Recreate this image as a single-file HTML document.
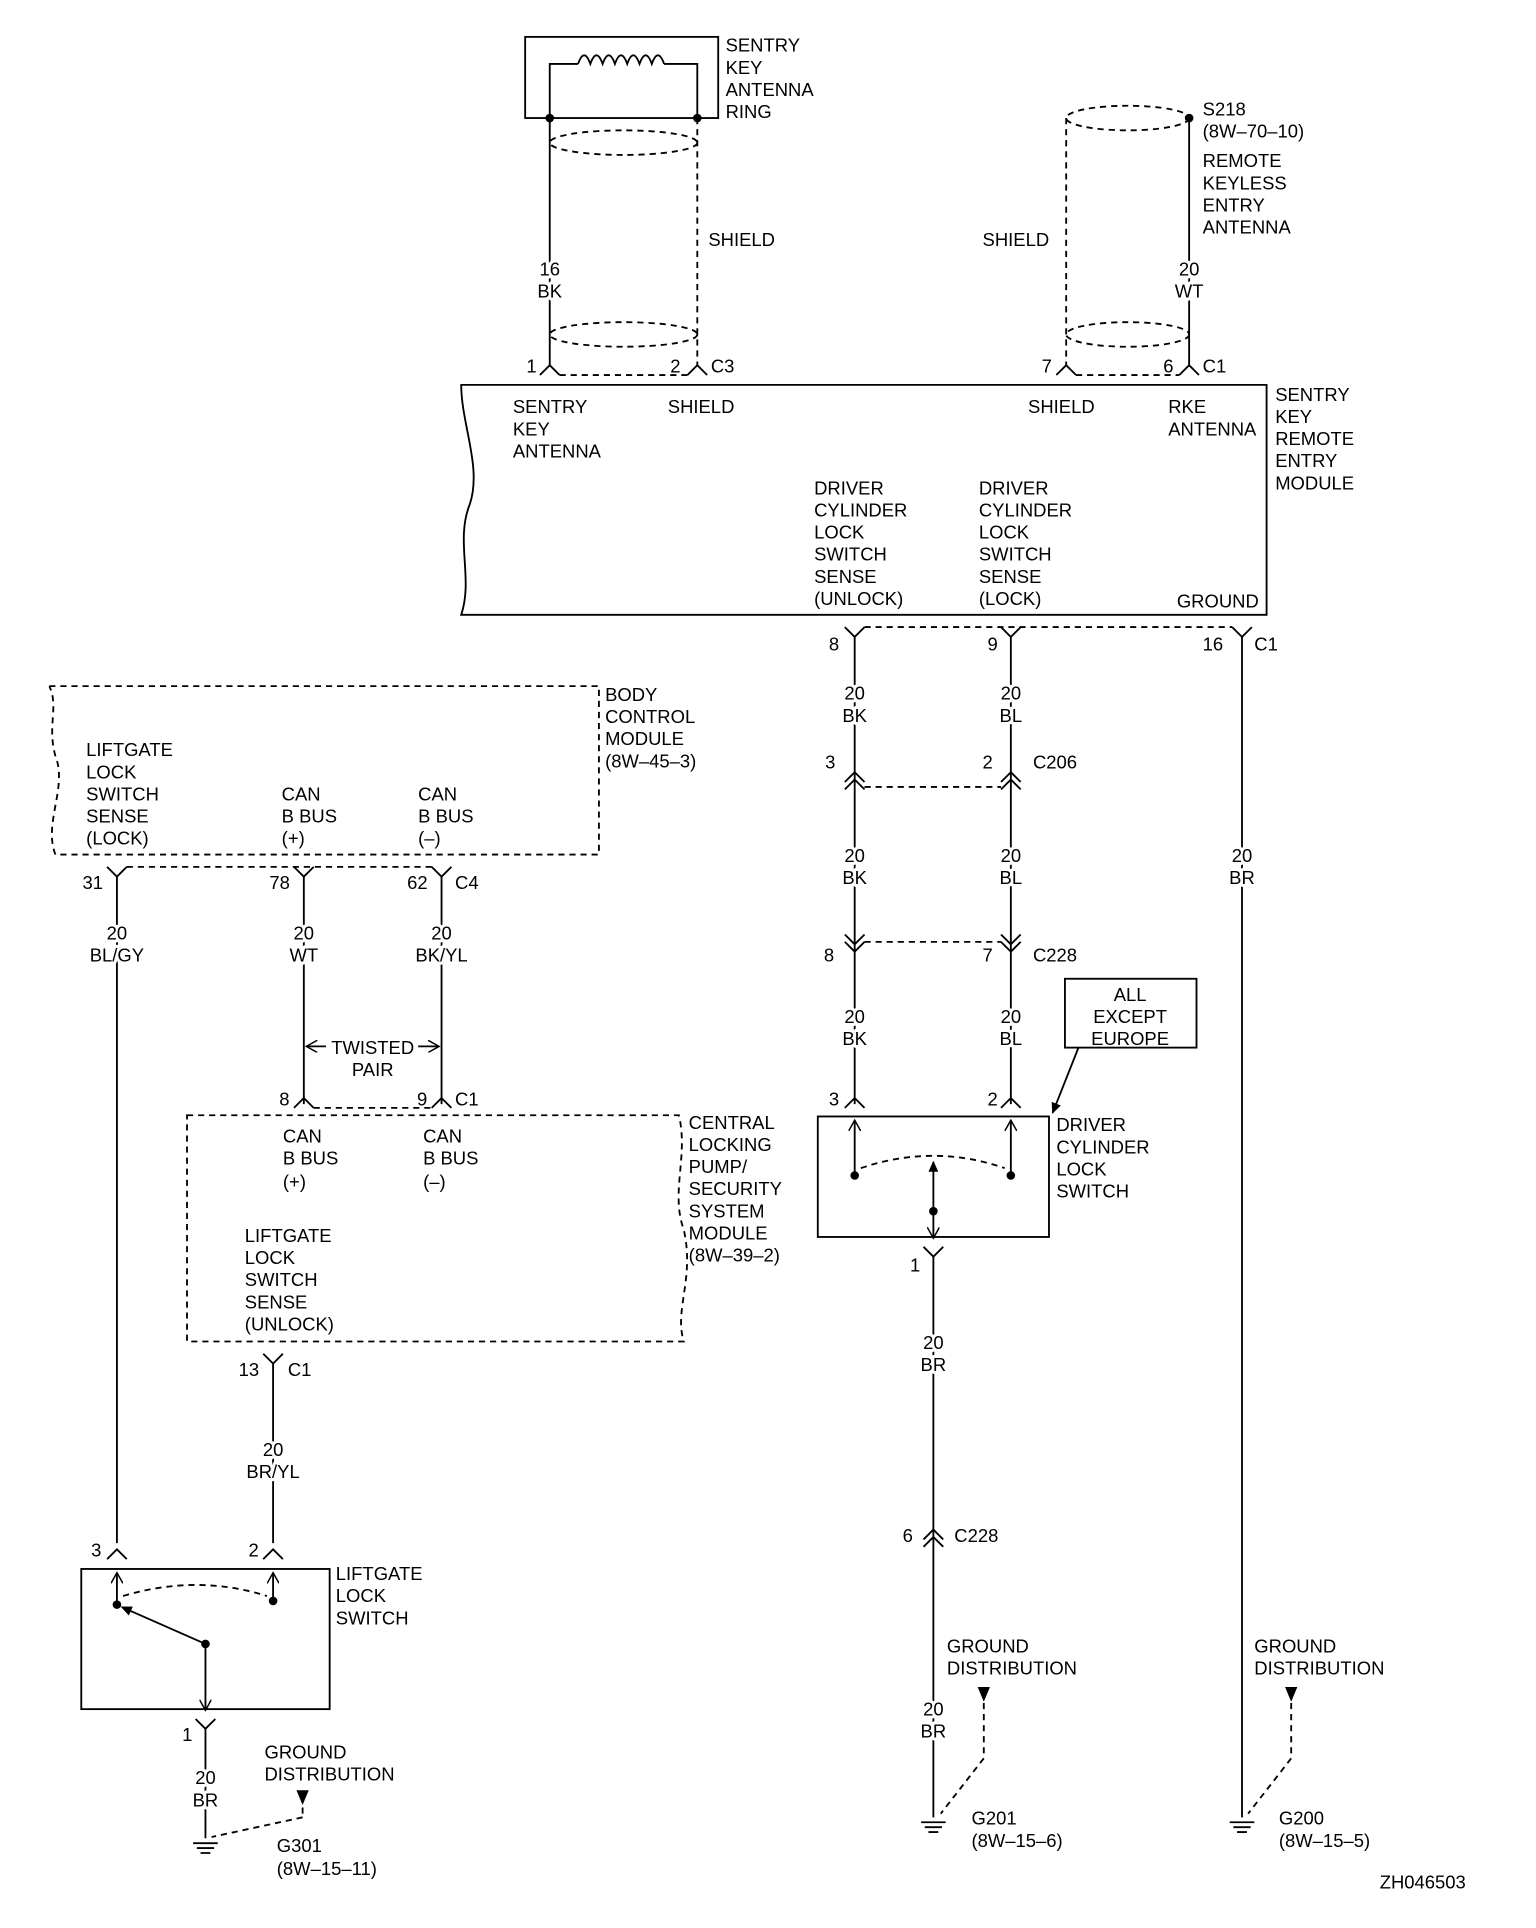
<!DOCTYPE html>
<html><head><meta charset="utf-8"><style>
html,body{margin:0;padding:0;background:#fff}
svg{display:block}
text{font-family:"Liberation Sans",sans-serif;font-size:15px;fill:#000}
.c{text-anchor:middle}
.w{stroke:#fff;stroke-width:5px;paint-order:stroke;stroke-linejoin:round}
</style></head><body>
<svg width="1536" height="1928" viewBox="0 0 1249 1568" xmlns="http://www.w3.org/2000/svg">
<defs>
<marker id="ah" markerWidth="10" markerHeight="10" refX="8" refY="5" orient="auto" markerUnits="userSpaceOnUse"><path d="M0,0 L9,5 L0,10" fill="none" stroke="#000" stroke-width="1.2"/></marker>
<marker id="at" markerWidth="10" markerHeight="10" refX="8" refY="5" orient="auto" markerUnits="userSpaceOnUse"><path d="M0,1 L9,5 L0,9 Z" fill="#000"/></marker>
</defs>
<g stroke="#000" stroke-width="1.5" fill="none">
<rect x="427" y="30" width="157" height="66"/>
<path d="M447,96 V52 H470 M540,52 H567 V96"/>
<path d="M470,52 q5,-14 10,0 q5,-14 10,0 q5,-14 10,0 q5,-14 10,0 q5,-14 10,0 q5,-14 10,0 q5,-14 10,0"/>
<line x1="447" y1="96" x2="447" y2="297"/>
<line x1="567" y1="96" x2="567" y2="297" stroke-dasharray="5,4"/>
<ellipse cx="507" cy="116" rx="60" ry="10" stroke-dasharray="5,4"/>
<ellipse cx="507" cy="272" rx="60" ry="10" stroke-dasharray="5,4"/>
<path d="M439,305 L447,297 L455,305 M559,305 L567,297 L575,305"/>
<line x1="455" y1="305" x2="559" y2="305" stroke-dasharray="5,4"/>
<line x1="967" y1="96" x2="967" y2="297"/>
<line x1="867" y1="96" x2="867" y2="297" stroke-dasharray="5,4"/>
<ellipse cx="917" cy="96" rx="50" ry="10" stroke-dasharray="5,4"/>
<ellipse cx="917" cy="272" rx="50" ry="10" stroke-dasharray="5,4"/>
<path d="M859,305 L867,297 L875,305 M959,305 L967,297 L975,305"/>
<line x1="875" y1="305" x2="959" y2="305" stroke-dasharray="5,4"/>
<path d="M375,313 H1030 V500 H375 C385,470 370,440 382,410 C392,380 375,345 375,313 Z"/>
<path d="M687,510 L695,518 L703,510 M814,510 L822,518 L830,510 M1002,510 L1010,518 L1018,510"/>
<line x1="703" y1="510" x2="1002" y2="510" stroke-dasharray="5,4"/>
<line x1="695" y1="518" x2="695" y2="898"/>
<line x1="822" y1="518" x2="822" y2="898"/>
<line x1="1010" y1="518" x2="1010" y2="1478"/>
<path d="M687,636 L695,628 L703,636 M687,642 L695,634 L703,642 M814,636 L822,628 L830,636 M814,642 L822,634 L830,642"/>
<line x1="703" y1="640" x2="814" y2="640" stroke-dasharray="5,4"/>
<path d="M687,760 L695,768 L703,760 M687,766 L695,774 L703,766 M814,760 L822,768 L830,760 M814,766 L822,774 L830,766"/>
<line x1="703" y1="766" x2="814" y2="766" stroke-dasharray="5,4"/>
<path d="M687,901 L695,893 L703,901 M814,901 L822,893 L830,901"/>
<rect x="866" y="796" width="107" height="56"/>
<line x1="877" y1="852" x2="856" y2="905" marker-end="url(#at)"/>
<rect x="665" y="908" width="188" height="98"/>
<line x1="695" y1="956" x2="695" y2="912" marker-end="url(#ah)"/>
<line x1="822" y1="956" x2="822" y2="912" marker-end="url(#ah)"/>
<path d="M700,950 Q759,930 817,950" stroke-dasharray="5,4"/>
<line x1="759" y1="985" x2="759" y2="945" marker-end="url(#at)"/>
<line x1="759" y1="985" x2="759" y2="1006" marker-end="url(#ah)"/>
<path d="M751,1014 L759,1022 L767,1014"/>
<line x1="759" y1="1022" x2="759" y2="1478"/>
<path d="M751,1252 L759,1244 L767,1252 M751,1258 L759,1250 L767,1258"/>
<line x1="800" y1="1385" x2="800" y2="1430" stroke-dasharray="5,4"/>
<line x1="800" y1="1430" x2="765" y2="1475" stroke-dasharray="5,4"/>
<line x1="1050" y1="1385" x2="1050" y2="1430" stroke-dasharray="5,4"/>
<line x1="1050" y1="1430" x2="1015" y2="1475" stroke-dasharray="5,4"/>
<path d="M749,1482 H769 M752,1486 H766 M755,1490 H763"/>
<path d="M1000,1482 H1020 M1003,1486 H1017 M1006,1490 H1014"/>
<path d="M157,1499 H177 M160,1503 H174 M163,1507 H171"/>
<path d="M40,558 H487 V695 H45 C35,670 55,640 45,615 C38,590 48,575 40,558" stroke-dasharray="5,4"/>
<path d="M87,705 L95,713 L103,705 M239,705 L247,713 L255,705 M351,705 L359,713 L367,705"/>
<line x1="103" y1="705" x2="351" y2="705" stroke-dasharray="5,4"/>
<line x1="95" y1="713" x2="95" y2="1255"/>
<line x1="247" y1="713" x2="247" y2="898"/>
<line x1="359" y1="713" x2="359" y2="898"/>
<line x1="265" y1="851" x2="250" y2="851" marker-end="url(#ah)"/>
<line x1="340" y1="851" x2="356" y2="851" marker-end="url(#ah)"/>
<path d="M239,901 L247,893 L255,901 M351,901 L359,893 L367,901"/>
<line x1="255" y1="901" x2="351" y2="901" stroke-dasharray="5,4"/>
<path d="M152,907 H552 C560,940 545,970 556,1000 C565,1040 548,1065 556,1091 H152 Z" stroke-dasharray="5,4"/>
<path d="M214,1101 L222,1109 L230,1101"/>
<line x1="222" y1="1109" x2="222" y2="1255"/>
<path d="M87,1268 L95,1260 L103,1268 M214,1268 L222,1260 L230,1268"/>
<rect x="66" y="1276" width="202" height="114"/>
<line x1="95" y1="1305" x2="95" y2="1280" marker-end="url(#ah)"/>
<line x1="222" y1="1302" x2="222" y2="1280" marker-end="url(#ah)"/>
<path d="M100,1298 Q160,1280 217,1298" stroke-dasharray="5,4"/>
<line x1="167" y1="1337" x2="99" y2="1307" marker-end="url(#at)"/>
<line x1="167" y1="1337" x2="167" y2="1390" marker-end="url(#ah)"/>
<path d="M159,1398 L167,1406 L175,1398"/>
<line x1="167" y1="1406" x2="167" y2="1495"/>
<line x1="246" y1="1470" x2="246" y2="1478" stroke-dasharray="5,4"/>
<line x1="246" y1="1478" x2="172" y2="1494" stroke-dasharray="5,4"/>
</g>
<g fill="#000">
<circle cx="447" cy="96" r="3.5"/><circle cx="567" cy="96" r="3.5"/><circle cx="967" cy="96" r="3.5"/>
<circle cx="695" cy="956" r="3.5"/><circle cx="822" cy="956" r="3.5"/><circle cx="759" cy="985" r="3.5"/>
<circle cx="95" cy="1305" r="3.5"/><circle cx="222" cy="1302" r="3.5"/><circle cx="167" cy="1337" r="3.5"/>
<path d="M795,1372 H805 L800,1384 Z"/><path d="M1045,1372 H1055 L1050,1384 Z"/><path d="M241,1456 H251 L246,1468 Z"/>
</g>
<text x="590" y="42">SENTRY</text><text x="590" y="60">KEY</text><text x="590" y="78">ANTENNA</text><text x="590" y="96">RING</text>
<text x="576" y="200">SHIELD</text>
<text class="c w" x="447" y="224">16</text><text class="c w" x="447" y="242">BK</text>
<text x="428" y="303">1</text><text x="545" y="303">2</text><text x="578" y="303">C3</text>
<text x="978" y="94">S218</text><text x="978" y="112">(8W–70–10)</text><text x="978" y="136">REMOTE</text><text x="978" y="154">KEYLESS</text><text x="978" y="172">ENTRY</text><text x="978" y="190">ANTENNA</text>
<text x="799" y="200">SHIELD</text>
<text class="c w" x="967" y="224">20</text><text class="c w" x="967" y="242">WT</text>
<text x="847" y="303">7</text><text x="946" y="303">6</text><text x="978" y="303">C1</text>
<text x="417" y="336">SENTRY</text><text x="417" y="354">KEY</text><text x="417" y="372">ANTENNA</text>
<text x="543" y="336">SHIELD</text><text x="836" y="336">SHIELD</text>
<text x="950" y="336">RKE</text><text x="950" y="354">ANTENNA</text>
<text x="1037" y="326">SENTRY</text><text x="1037" y="344">KEY</text><text x="1037" y="362">REMOTE</text><text x="1037" y="380">ENTRY</text><text x="1037" y="398">MODULE</text>
<text x="662" y="402">DRIVER</text><text x="662" y="420">CYLINDER</text><text x="662" y="438">LOCK</text><text x="662" y="456">SWITCH</text><text x="662" y="474">SENSE</text><text x="662" y="492">(UNLOCK)</text>
<text x="796" y="402">DRIVER</text><text x="796" y="420">CYLINDER</text><text x="796" y="438">LOCK</text><text x="796" y="456">SWITCH</text><text x="796" y="474">SENSE</text><text x="796" y="492">(LOCK)</text>
<text x="957" y="494">GROUND</text>
<text x="674" y="529">8</text><text x="803" y="529">9</text><text x="978" y="529">16</text><text x="1020" y="529">C1</text>
<text class="c w" x="695" y="569">20</text><text class="c w" x="695" y="587">BK</text><text class="c w" x="822" y="569">20</text><text class="c w" x="822" y="587">BL</text>
<text x="671" y="625">3</text><text x="799" y="625">2</text><text x="840" y="625">C206</text>
<text class="c w" x="695" y="701">20</text><text class="c w" x="695" y="719">BK</text><text class="c w" x="822" y="701">20</text><text class="c w" x="822" y="719">BL</text>
<text class="c w" x="1010" y="701">20</text><text class="c w" x="1010" y="719">BR</text>
<text x="670" y="782">8</text><text x="799" y="782">7</text><text x="840" y="782">C228</text>
<text class="c w" x="695" y="832">20</text><text class="c w" x="695" y="850">BK</text><text class="c w" x="822" y="832">20</text><text class="c w" x="822" y="850">BL</text>
<text class="c" x="919" y="814">ALL</text><text class="c" x="919" y="832">EXCEPT</text><text class="c" x="919" y="850">EUROPE</text>
<text x="674" y="899">3</text><text x="803" y="899">2</text>
<text x="859" y="920">DRIVER</text><text x="859" y="938">CYLINDER</text><text x="859" y="956">LOCK</text><text x="859" y="974">SWITCH</text>
<text x="740" y="1034">1</text>
<text class="c w" x="759" y="1097">20</text><text class="c w" x="759" y="1115">BR</text>
<text x="734" y="1254">6</text><text x="776" y="1254">C228</text>
<text x="770" y="1344">GROUND</text><text x="770" y="1362">DISTRIBUTION</text>
<text x="1020" y="1344">GROUND</text><text x="1020" y="1362">DISTRIBUTION</text>
<text class="c w" x="759" y="1395">20</text><text class="c w" x="759" y="1413">BR</text>
<text x="790" y="1484">G201</text><text x="790" y="1502">(8W–15–6)</text>
<text x="1040" y="1484">G200</text><text x="1040" y="1502">(8W–15–5)</text>
<text x="492" y="570">BODY</text><text x="492" y="588">CONTROL</text><text x="492" y="606">MODULE</text><text x="492" y="624">(8W–45–3)</text>
<text x="70" y="615">LIFTGATE</text><text x="70" y="633">LOCK</text><text x="70" y="651">SWITCH</text><text x="70" y="669">SENSE</text><text x="70" y="687">(LOCK)</text>
<text x="229" y="651">CAN</text><text x="229" y="669">B BUS</text><text x="229" y="687">(+)</text>
<text x="340" y="651">CAN</text><text x="340" y="669">B BUS</text><text x="340" y="687">(–)</text>
<text x="67" y="723">31</text><text x="219" y="723">78</text><text x="331" y="723">62</text><text x="370" y="723">C4</text>
<text class="c w" x="95" y="764">20</text><text class="c w" x="95" y="782">BL/GY</text>
<text class="c w" x="247" y="764">20</text><text class="c w" x="247" y="782">WT</text>
<text class="c w" x="359" y="764">20</text><text class="c w" x="359" y="782">BK/YL</text>
<text class="c" x="303" y="857">TWISTED</text><text class="c" x="303" y="875">PAIR</text>
<text x="227" y="899">8</text><text x="339" y="899">9</text><text x="370" y="899">C1</text>
<text x="230" y="929">CAN</text><text x="230" y="947">B BUS</text><text x="230" y="966">(+)</text>
<text x="344" y="929">CAN</text><text x="344" y="947">B BUS</text><text x="344" y="966">(–)</text>
<text x="560" y="918">CENTRAL</text><text x="560" y="936">LOCKING</text><text x="560" y="954">PUMP/</text><text x="560" y="972">SECURITY</text><text x="560" y="990">SYSTEM</text><text x="560" y="1008">MODULE</text><text x="560" y="1026">(8W–39–2)</text>
<text x="199" y="1010">LIFTGATE</text><text x="199" y="1028">LOCK</text><text x="199" y="1046">SWITCH</text><text x="199" y="1064">SENSE</text><text x="199" y="1082">(UNLOCK)</text>
<text x="194" y="1119">13</text><text x="234" y="1119">C1</text>
<text class="c w" x="222" y="1184">20</text><text class="c w" x="222" y="1202">BR/YL</text>
<text x="74" y="1266">3</text><text x="202" y="1266">2</text>
<text x="273" y="1285">LIFTGATE</text><text x="273" y="1303">LOCK</text><text x="273" y="1321">SWITCH</text>
<text x="148" y="1416">1</text>
<text class="c w" x="167" y="1451">20</text><text class="c w" x="167" y="1469">BR</text>
<text x="215" y="1430">GROUND</text><text x="215" y="1448">DISTRIBUTION</text>
<text x="225" y="1506">G301</text><text x="225" y="1525">(8W–15–11)</text>
<text x="1122" y="1536">ZH046503</text>
</svg>
</body></html>
